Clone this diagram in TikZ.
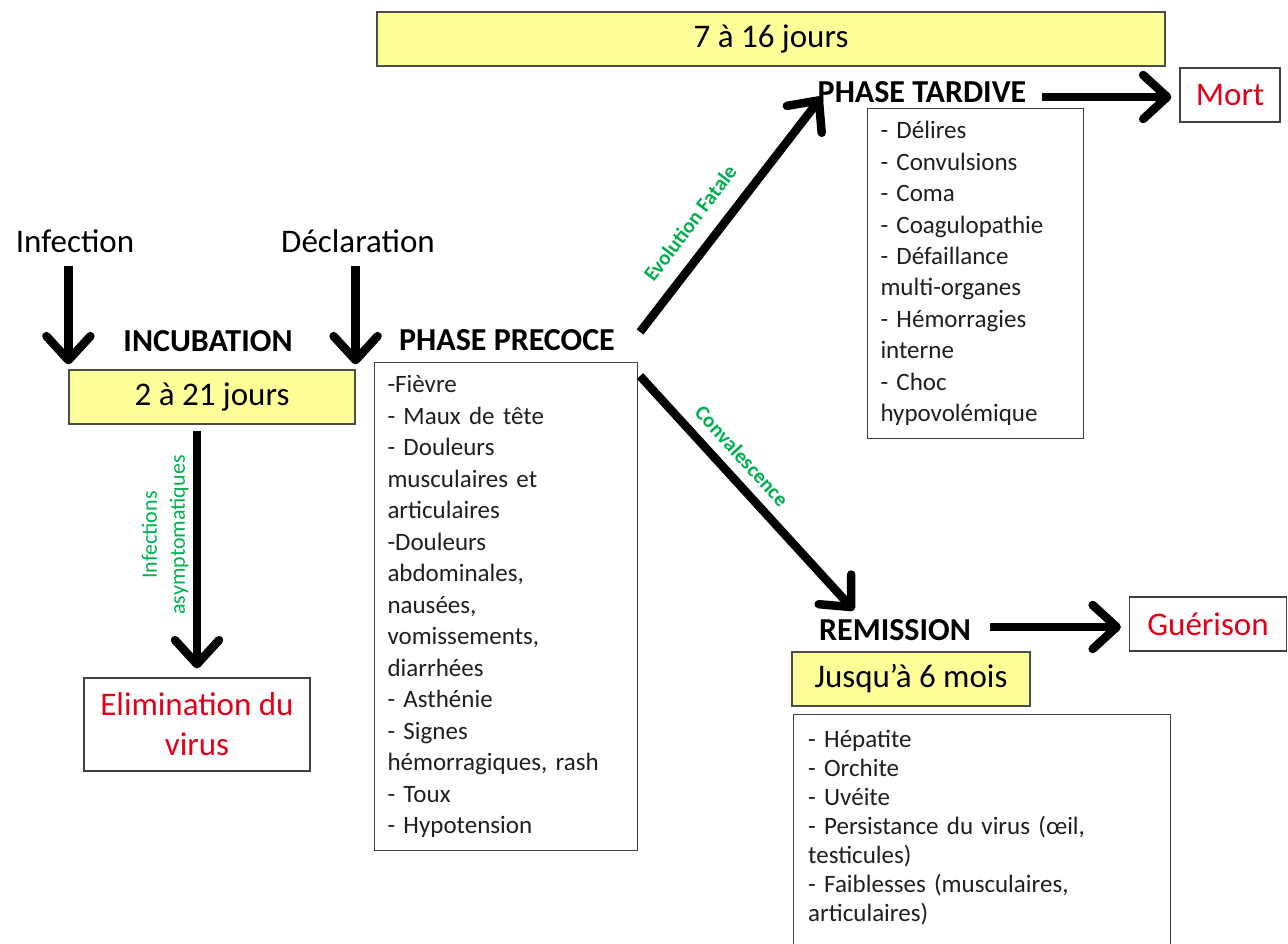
\documentclass[tikz,border=0pt]{standalone}
\usepackage{fontspec}
\setmainfont{Carlito}
\usetikzlibrary{arrows.meta,calc}
\definecolor{dgreen}{RGB}{0,176,80}
\definecolor{dred}{RGB}{226,0,26}
\definecolor{lyel}{RGB}{255,255,153}
\begin{document}
\begin{tikzpicture}[x=1pt,y=-1pt,
  lbl/.style={font=\fontsize{33}{40}\selectfont, inner sep=0pt},
  head/.style={font=\fontsize{32}{38}\selectfont\bfseries, inner sep=0pt},
  yelbox/.style={draw=black!70, line width=1.2pt, fill=lyel, font=\fontsize{33}{40}\selectfont, inner sep=0pt},
  outbox/.style={draw=black!75, line width=1.2pt, text=dred, font=\fontsize{33}{40}\selectfont, inner sep=0pt, align=center},
  listbox/.style={draw=black!75, line width=1pt, anchor=north west, align=left, inner xsep=13pt, inner ysep=0pt, text=black!88},
  boxline/.style={draw=black!75, line width=1pt},
  bigarrow/.style={line width=8.5pt, -{Straight Barb[length=24pt,width=44pt,round]}},
  glabel/.style={text=dgreen, font=\fontsize{21}{27}\selectfont\bfseries, inner sep=0pt, align=center}
]
\useasboundingbox (0,0) rectangle (1288,944);
\fill[white] (0,0) rectangle (1288,944);
\clip (0,0) rectangle (1288,944);

% top duration box
\node[yelbox, minimum width=788pt, minimum height=54pt] (tardDur) at (771,39) {7 à 16 jours};

% labels
\node[lbl] (infection) at (75,241) {Infection};
\node[lbl] (declaration) at (358,241) {Déclaration};
\node[head] (incubT) at (208,341) {INCUBATION};
\node[yelbox, minimum width=286pt, minimum height=54pt] (inc) at (212,397) {2 à 21 jours};
\node[head] (precoceT) at (507,340) {PHASE PRECOCE};
\node[head] (tardiveT) at (922,92) {PHASE TARDIVE};
\node[head] (remT) at (895,630) {REMISSION};

% precoce list
\node[listbox, text width=237pt, minimum height=488pt,
      font=\fontsize{25}{31.5}\selectfont] (precoce) at (374,362)
{-Fièvre\\
- Maux de tête\\
- Douleurs\\
musculaires et\\
articulaires\\
-Douleurs\\
abdominales,\\
nausées,\\
vomissements,\\
diarrhées\\
- Asthénie\\
- Signes\\
hémorragiques, rash\\
- Toux\\
- Hypotension};

% tardive list
\node[listbox, text width=190pt, minimum height=330pt,
      font=\fontsize{25}{31.4}\selectfont] (tardive) at (867,108)
{- Délires\\
- Convulsions\\
- Coma\\
- Coagulopathie\\
- Défaillance\\
multi-organes\\
- Hémorragies\\
interne\\
- Choc\\
hypovolémique};

% outcome boxes
\node[outbox, minimum width=100pt, minimum height=54pt] (mort) at (1230,95) {Mort};
\node[outbox, minimum width=157pt, minimum height=54pt] (guer) at (1208,624) {Guérison};
\node[outbox, minimum width=226pt, minimum height=93pt] (elim) at (197,724.5) {Elimination du\\virus};

% remission
\node[yelbox, minimum width=238pt, minimum height=54pt] (remDur) at (911,679) {Jusqu’à 6 mois};
\node[anchor=north west, align=left, inner xsep=15pt, inner ysep=16pt, text width=347pt,
      font=\fontsize{25}{29}\selectfont, text=black!88] (remList) at (793,714)
{- Hépatite\\
- Orchite\\
- Uvéite\\
- Persistance du virus (œil,\\
testicules)\\
- Faiblesses (musculaires,\\
articulaires)};
\draw[boxline] ($(remList.south west)+(0,40)$) -- (remList.north west) -- (remList.north east) -- ($(remList.south east)+(0,40)$);

% arrows
\draw[bigarrow] ([yshift=-13pt]infection.south -| inc.north west) -- ([yshift=5pt]inc.north west);
\draw[bigarrow] ([yshift=-13pt]declaration.south -| inc.north east) -- ([yshift=5pt]inc.north east);
\draw[bigarrow] ([yshift=-6pt]inc.south -| elim.north) -- ([yshift=9pt]elim.north);
\draw[bigarrow] ($(precoceT.east)+(25,-8)$) -- ($(tardiveT.west)+(4,5)$);
\draw[bigarrow] ($(precoceT.east)+(25,36)$) -- ($(remT.north west)+(35,-9)$);
\draw[bigarrow] ($(tardiveT.east)+(16,5)$) -- ($(mort.west)+(-8,2)$);
\draw[bigarrow] ($(remT.east)+(19,-3)$) -- ($(guer.west)+(-8,3)$);

% green labels
\node[glabel, rotate=90, font=\fontsize{22}{28}\selectfont] (asym) at (165,535) {Infections\\asymptomatiques};
\node[glabel, rotate=53] (evol) at (690,223) {Evolution Fatale};
\node[glabel, rotate=-47.7] (conv) at (742,456) {Convalescence};
\end{tikzpicture}
\end{document}
